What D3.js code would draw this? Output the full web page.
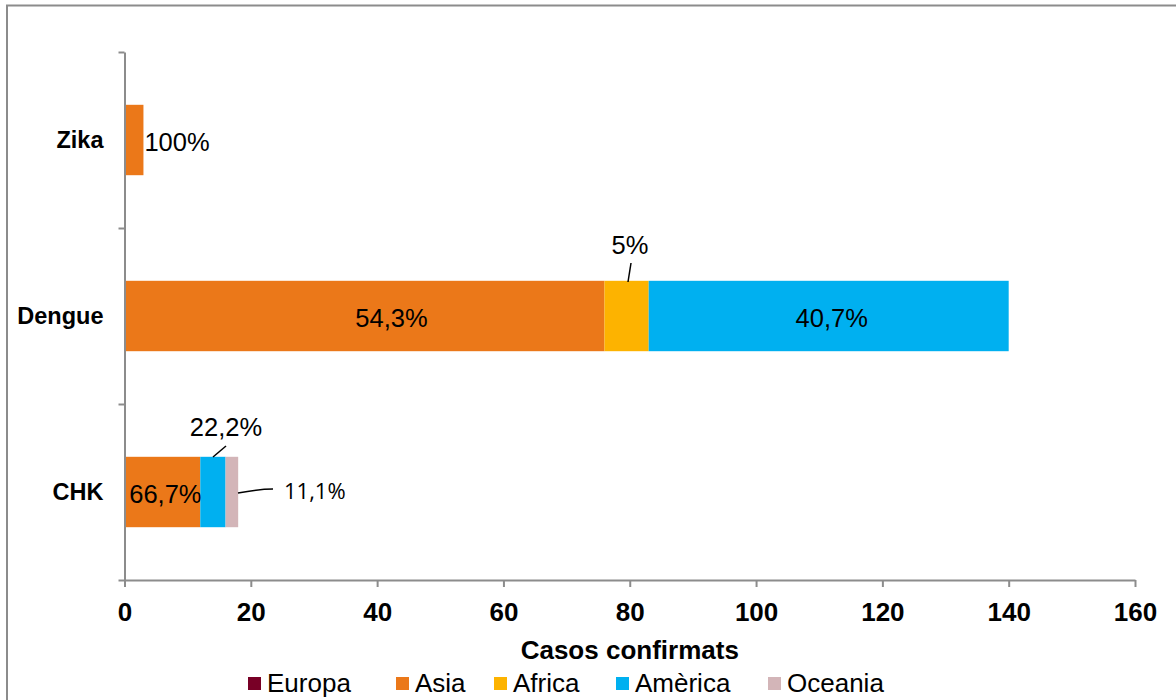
<!DOCTYPE html>
<html>
<head>
<meta charset="utf-8">
<script src="https://cdn.jsdelivr.net/npm/d3@7"></script>
<style>
  body { margin: 0; background: #fff; }
  svg { display: block; font-family: "Liberation Sans", Arial, sans-serif; }
</style>
</head>
<body>
<div id="chart"></div>
<script>
const categories = ["Zika", "Dengue", "CHK"];
const seriesNames = ["Europa", "Asia", "Africa", "Amèrica", "Oceania"];
const europa  = [0, 0, 0];
const asia    = [3, 76, 12];
const africa  = [0, 7, 0];
const america = [0, 57, 4];
const oceania = [0, 0, 2];
const xTicks = [0, 20, 40, 60, 80, 100, 120, 140, 160];

const colors = ["#780026", "#EB7819", "#FDB300", "#00B0F0", "#D3B5B8"];

// label placement per category/series (pixel nudges, leader lines)
const labelPlace = {
    "Zika|Asia":      { mode: "right", dx: 1, dy: 2 },
    "Dengue|Asia":    { mode: "inside", dx: 27, dy: 2 },
    "Dengue|Africa":  { mode: "leader", lx: 630, ly: 254, l1: [628, 282], l2: [631, 263] },
    "Dengue|Amèrica": { mode: "inside", dx: 3, dy: 2 },
    "CHK|Asia":       { mode: "inside", dx: 3, dy: 2 },
    "CHK|Amèrica":    { mode: "leader", lx: 226, ly: 436, l1: [213, 457], l2: [226, 446] },
    "CHK|Oceania":    { mode: "side", lx: 284, ly: 499, l1: [238, 493], l2: [273, 489] }
};

const width = 1176, height = 700;
const margin = { top: 52, left: 124.5, right: 41, bottom: 120 };

const svg = d3.select("#chart").append("svg")
    .attr("width", width)
    .attr("height", height);

// outer frame
svg.append("rect")
    .attr("x", 7).attr("y", 5.5)
    .attr("width", width).attr("height", height)
    .attr("fill", "none")
    .attr("stroke", "#8c8c8c")
    .attr("stroke-width", 2);

const x = d3.scaleLinear().domain([0, 160]).range([margin.left, width - margin.right]);
const y = d3.scaleBand().domain(categories)
    .range([margin.top, height - margin.bottom])
    .paddingInner(0.6).paddingOuter(0.3);
const yEdges = d3.scaleLinear().domain([0, categories.length]).range([height - margin.bottom, margin.top]);

const rows = categories.map((c, i) => {
    const r = { category: c };
    r["Europa"] = europa[i];
    r["Asia"] = asia[i];
    r["Africa"] = africa[i];
    r["Amèrica"] = america[i];
    r["Oceania"] = oceania[i];
    return r;
});
const stacked = d3.stack().keys(seriesNames)(rows);

// bars
stacked.forEach((layer, si) => {
    svg.append("g").attr("fill", colors[si])
        .selectAll("rect")
        .data(layer)
        .join("rect")
        .attr("x", d => x(d[0]))
        .attr("y", d => y(d.data.category))
        .attr("width", d => x(d[1]) - x(d[0]))
        .attr("height", y.bandwidth());
});

// axes
const xAxis = svg.append("g")
    .attr("transform", `translate(0,${height - margin.bottom})`)
    .call(d3.axisBottom(x).tickValues(xTicks).tickSize(7).tickPadding(16).tickSizeOuter(0));
xAxis.selectAll("text")
    .attr("font-size", 26).attr("font-weight", "bold").attr("fill", "#000")
    .attr("font-family", "Liberation Sans, Arial, sans-serif");

const yAxis = svg.append("g")
    .attr("transform", `translate(${margin.left},0)`)
    .call(d3.axisLeft(yEdges).tickValues(d3.range(categories.length + 1)).tickFormat("").tickSize(6).tickSizeOuter(0));

[xAxis, yAxis].forEach(g => {
    g.select(".domain").attr("stroke", "#8c8c8c").attr("stroke-width", 2);
    g.selectAll(".tick line").attr("stroke", "#8c8c8c").attr("stroke-width", 2);
});

// category labels
svg.append("g").selectAll("text")
    .data(categories)
    .join("text")
    .attr("x", margin.left - 21)
    .attr("y", d => y(d) + y.bandwidth() / 2)
    .attr("dy", "0.35em")
    .attr("text-anchor", "end")
    .attr("font-size", 23.5)
    .attr("font-weight", "bold")
    .text(d => d);

// data labels
const fmtPct = v => {
    let s = (Math.round(v * 1000) / 10).toFixed(1).replace(".", ",");
    return s.replace(/,0$/, "") + "%";
};
const labelG = svg.append("g");
stacked.forEach(layer => {
    layer.forEach(d => {
        const val = d[1] - d[0];
        if (!val) return;
        const key = d.data.category + "|" + layer.key;
        const p = labelPlace[key];
        if (!p) return;
        const total = seriesNames.reduce((s, k) => s + d.data[k], 0);
        const txt = fmtPct(val / total);
        const cy = y(d.data.category) + y.bandwidth() / 2;
        if (p.mode === "inside") {
            labelG.append("text")
                .attr("x", (x(d[0]) + x(d[1])) / 2 + p.dx)
                .attr("y", cy + p.dy).attr("dy", "0.35em")
                .attr("text-anchor", "middle").attr("font-size", 25.5)
                .text(txt);
        } else if (p.mode === "right") {
            labelG.append("text")
                .attr("x", x(d[1]) + p.dx)
                .attr("y", cy + p.dy).attr("dy", "0.35em")
                .attr("font-size", 25.5)
                .text(txt);
        } else {
            labelG.append("path")
                .attr("d", p.mode === "side"
                    ? `M${p.l1[0]},${p.l1[1]} Q${(p.l1[0] + p.l2[0]) / 2 + 4},${p.l2[1]} ${p.l2[0]},${p.l2[1]}`
                    : `M${p.l1[0]},${p.l1[1]} L${p.l2[0]},${p.l2[1]}`)
                .attr("fill", "none").attr("stroke", "#000").attr("stroke-width", 1.5);
            labelG.append("text")
                .attr("x", p.lx).attr("y", p.ly)
                .attr("text-anchor", p.mode === "side" ? "start" : "middle")
                .attr("font-size", p.mode === "side" ? 22 : 25.5)
                .attr("font-family", p.mode === "side" ? "Open Sans, sans-serif" : null)
                .text(txt);
        }
    });
});

// x axis title
svg.append("text")
    .attr("x", (x.range()[0] + x.range()[1]) / 2)
    .attr("y", 659)
    .attr("text-anchor", "middle")
    .attr("font-size", 26)
    .attr("font-weight", "bold")
    .text("Casos confirmats");

// legend
const legendX = [248, 396, 494, 616, 768];
const legend = svg.append("g").selectAll("g")
    .data(seriesNames)
    .join("g")
    .attr("transform", (d, i) => `translate(${legendX[i]},692)`);
legend.append("rect")
    .attr("x", 0).attr("y", -15)
    .attr("width", 13).attr("height", 13)
    .attr("fill", (d, i) => colors[i]);
legend.append("text")
    .attr("x", 19).attr("y", 0)
    .attr("font-size", 26)
    .text(d => d);
</script>
</body>
</html>
